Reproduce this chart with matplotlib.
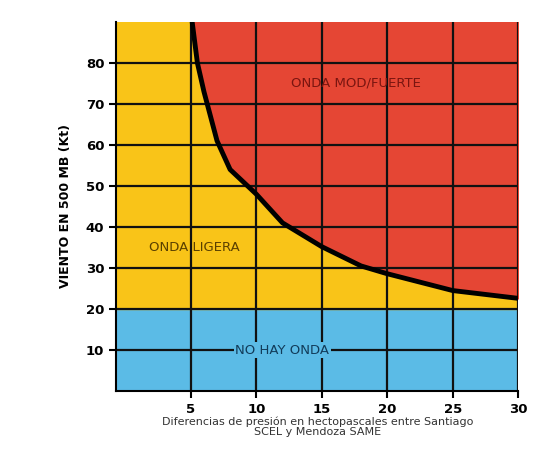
import matplotlib.pyplot as plt
import numpy as np

# boundary curve between ONDA LIGERA and ONDA MOD/FUERTE
curve_x = [5.1, 5.5, 6, 7, 8, 9, 10, 12, 15, 18, 20, 25, 30]
curve_y = [90, 80, 73, 61, 54, 51, 48, 41, 35.2, 30.5, 28.6, 24.5, 22.6]
x_ticks = [5, 10, 15, 20, 25, 30]
y_ticks = [10, 20, 30, 40, 50, 60, 70, 80]
no_wave_top = 20

xmin, xmax, ymin, ymax = -0.7, 30, 0, 90

fig = plt.figure(figsize=(5.56, 4.65), dpi=100)
ax = fig.add_axes([0.209, 0.159, 0.723, 0.794])

blue = '#5bbbe6'
yellow = '#f9c418'
red = '#e54634'

ax.axhspan(ymin, no_wave_top, color=blue, zorder=0)
ax.axhspan(no_wave_top, ymax, color=yellow, zorder=0)
cx = np.array(curve_x)
cy = np.array(curve_y)
ax.fill_between(cx, cy, ymax, color=red, zorder=0)
ax.fill_between([cx[0], xmax], ymax, ymax, color=red, zorder=0)

for v in x_ticks:
    ax.axvline(v, color='#111111', lw=1.6, zorder=1)
for v in y_ticks:
    ax.axhline(v, color='#111111', lw=1.6, zorder=1)

ax.plot(cx, cy, color='black', lw=3.5, zorder=3, solid_capstyle='butt')

ax.set_xlim(xmin, xmax)
ax.set_ylim(ymin, ymax)
ax.set_xticks(x_ticks)
ax.set_yticks(y_ticks)
ax.tick_params(labelsize=9.5, length=5, width=1.5)
for lbl in ax.get_xticklabels() + ax.get_yticklabels():
    lbl.set_fontweight('bold')
for s in ax.spines.values():
    s.set_linewidth(1.5)
ax.spines['top'].set_visible(False)
ax.spines['right'].set_visible(False)

ax.text(17.6, 75, 'ONDA MOD/FUERTE', color='#7a1510', fontsize=9.5,
        ha='center', va='center', zorder=4)
ax.text(5.3, 35, 'ONDA LIGERA', color='#5a4000', fontsize=9.5,
        ha='center', va='center', zorder=4)
ax.text(12, 10, 'NO HAY ONDA', color='#123c5a', fontsize=9.5,
        ha='center', va='center', zorder=4,
        bbox=dict(facecolor=blue, edgecolor='none', pad=1))

ax.set_ylabel('VIENTO EN 500 MB (Kt)', fontsize=9, fontweight='bold', labelpad=10)
ax.set_xlabel('Diferencias de presión en hectopascales entre Santiago\nSCEL y Mendoza SAME',
              fontsize=8, color='#333333', labelpad=6, linespacing=1.0)
ax.xaxis.set_label_coords(0.5, -0.07, transform=ax.transAxes)
ax.xaxis.label.set_va('top')

fig.savefig('out.png')
